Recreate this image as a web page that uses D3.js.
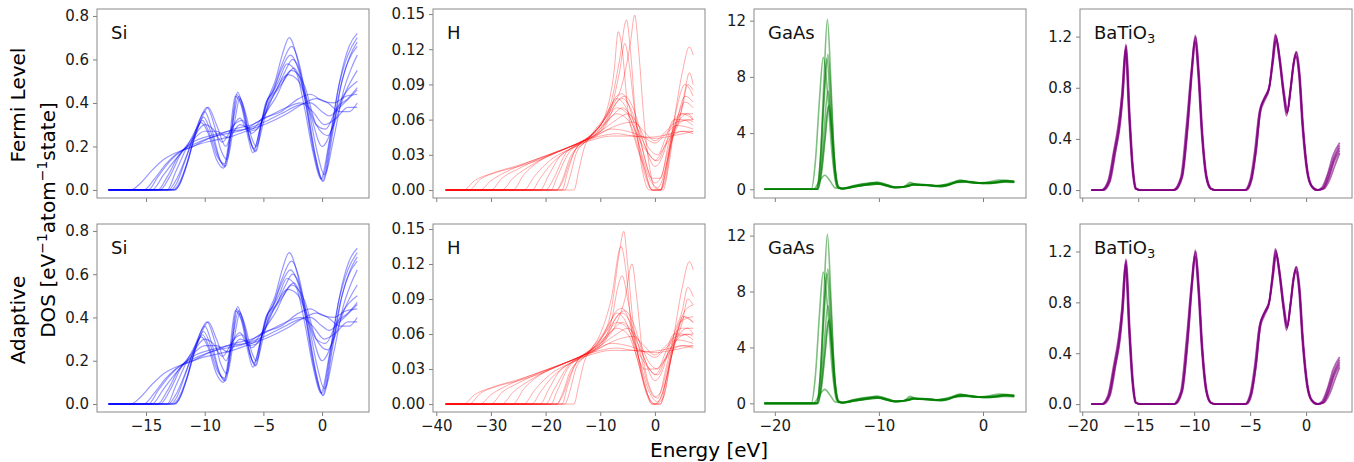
<!DOCTYPE html>
<html>
<head>
<meta charset="utf-8">
<script src="https://cdn.jsdelivr.net/npm/d3@7"></script>
<style>
body { margin: 0; background: #fff; }
text { font-family: "DejaVu Sans", sans-serif; }
</style>
</head>
<body>
<svg id="chart" width="1354" height="462"></svg>
<script>
const svg = d3.select("#chart")

// tick values
const siXTicks = [-15, -10, -5, 0]
const siYTicks = [0, 0.2, 0.4, 0.6, 0.8]
const hXTicks = [-40, -30, -20, -10, 0]
const hYTicks = [0, 0.03, 0.06, 0.09, 0.12, 0.15]
const gaasXTicks = [-20, -10, 0]
const gaasYTicks = [0, 4, 8, 12]
const batXTicks = [-20, -15, -10, -5, 0]
const batYTicks = [0, 0.4, 0.8, 1.2]

const rowNames = ["Fermi Level", "Adaptive"]

// Si DOS curves, [energy, dos]
const siCurves = [
  [[-18.2,0],[-12.6,0],[-12.2,0.02],[-11.5,0.12],[-10.8,0.25],[-10.1,0.335],[-9.5,0.27],[-8.8,0.15],[-8.3,0.105],[-7.8,0.25],[-7.3,0.44],[-6.8,0.38],[-6.2,0.24],[-5.7,0.175],[-5.2,0.3],[-4.7,0.41],[-4.2,0.45],[-3.5,0.55],[-2.7,0.62],[-2.0,0.55],[-1.3,0.37],[-0.6,0.16],[0.05,0.04],[0.8,0.25],[1.6,0.48],[2.3,0.6],[3.0,0.66]],
  [[-18.2,0],[-12.5,0],[-12.1,0.03],[-11.4,0.14],[-10.7,0.28],[-10.0,0.36],[-9.4,0.28],[-8.7,0.14],[-8.2,0.11],[-7.7,0.27],[-7.2,0.45],[-6.7,0.37],[-6.1,0.22],[-5.6,0.18],[-5.1,0.32],[-4.6,0.42],[-4.0,0.5],[-3.4,0.62],[-2.8,0.7],[-2.1,0.6],[-1.4,0.4],[-0.7,0.17],[0.0,0.05],[0.7,0.24],[1.5,0.5],[2.3,0.66],[3.0,0.72]],
  [[-18.2,0],[-12.9,0],[-12.4,0.03],[-11.7,0.13],[-10.9,0.25],[-10.2,0.32],[-9.6,0.26],[-8.9,0.15],[-8.3,0.12],[-7.7,0.28],[-7.1,0.43],[-6.6,0.36],[-6.2,0.25],[-5.8,0.19],[-5.2,0.3],[-4.7,0.4],[-4.1,0.47],[-3.4,0.58],[-2.6,0.66],[-1.9,0.57],[-1.2,0.36],[-0.5,0.14],[0.1,0.04],[0.9,0.26],[1.7,0.5],[2.4,0.62],[3.0,0.68]],
  [[-18.2,0],[-13.1,0],[-12.5,0.04],[-11.6,0.15],[-10.6,0.3],[-9.8,0.38],[-9.2,0.3],[-8.6,0.18],[-8.1,0.14],[-7.5,0.3],[-7.0,0.42],[-6.5,0.35],[-6.0,0.24],[-5.6,0.2],[-5.0,0.31],[-4.5,0.41],[-3.9,0.46],[-3.2,0.54],[-2.5,0.6],[-1.8,0.53],[-1.1,0.36],[-0.4,0.17],[0.2,0.07],[1.0,0.24],[1.8,0.45],[2.5,0.56],[3.0,0.62]],
  [[-18.2,0],[-12.7,0],[-12.3,0.02],[-11.6,0.11],[-11.0,0.22],[-10.3,0.31],[-9.7,0.26],[-9.0,0.14],[-8.4,0.1],[-7.9,0.24],[-7.4,0.43],[-6.9,0.39],[-6.3,0.24],[-5.9,0.17],[-5.3,0.28],[-4.8,0.4],[-4.3,0.44],[-3.7,0.5],[-3.0,0.58],[-2.2,0.54],[-1.5,0.38],[-0.8,0.18],[-0.1,0.05],[0.6,0.22],[1.4,0.47],[2.2,0.62],[3.0,0.7]],
  [[-18.2,0],[-13.8,0],[-13.0,0.06],[-12.0,0.17],[-11.0,0.24],[-10.0,0.3],[-9.3,0.28],[-8.5,0.22],[-7.5,0.3],[-6.8,0.32],[-6.0,0.26],[-5.0,0.33],[-4.0,0.45],[-2.9,0.53],[-2.0,0.5],[-1.0,0.35],[0.0,0.2],[1.0,0.3],[2.0,0.45],[3.0,0.55]],
  [[-18.2,0],[-14.5,0],[-13.5,0.07],[-12.5,0.14],[-11.5,0.2],[-10.0,0.27],[-9.0,0.27],[-8.0,0.24],[-7.0,0.3],[-6.0,0.28],[-5.0,0.34],[-4.0,0.42],[-2.6,0.55],[-1.5,0.48],[-0.5,0.3],[0.5,0.25],[1.5,0.4],[3.0,0.5]],
  [[-18.2,0],[-13.2,0],[-12.5,0.08],[-11.5,0.2],[-10.5,0.3],[-9.7,0.38],[-9.0,0.3],[-8.2,0.2],[-7.5,0.3],[-7.0,0.33],[-6.3,0.27],[-5.5,0.28],[-4.5,0.4],[-3.3,0.5],[-2.4,0.56],[-1.5,0.45],[-0.5,0.3],[0.3,0.28],[1.3,0.38],[2.2,0.42],[3.0,0.47]],
  [[-18.2,0],[-14.0,0],[-13.2,0.06],[-12.2,0.16],[-11.0,0.22],[-9.5,0.25],[-8.0,0.27],[-6.5,0.28],[-5.0,0.31],[-3.5,0.35],[-2.0,0.39],[-1.0,0.4],[0.0,0.36],[0.6,0.34],[1.5,0.38],[3.0,0.46]],
  [[-18.2,0],[-16.3,0],[-15.5,0.03],[-14.5,0.09],[-13.5,0.14],[-12.5,0.17],[-11.5,0.19],[-10.5,0.21],[-9.0,0.23],[-7.5,0.25],[-6.0,0.28],[-4.5,0.31],[-3.0,0.35],[-1.5,0.4],[-0.5,0.42],[0.5,0.4],[1.5,0.36],[2.3,0.36],[3.0,0.4]],
  [[-18.2,0],[-15.2,0],[-14.3,0.05],[-13.3,0.12],[-12.3,0.17],[-11.0,0.2],[-9.5,0.24],[-8.0,0.26],[-6.5,0.28],[-5.0,0.33],[-3.5,0.36],[-2.0,0.42],[-1.0,0.44],[0.0,0.41],[1.0,0.4],[2.0,0.43],[3.0,0.44]],
  [[-18.2,0],[-14.8,0],[-14.0,0.06],[-13.0,0.13],[-12.0,0.18],[-10.5,0.22],[-9.0,0.25],[-7.5,0.28],[-6.0,0.3],[-4.5,0.34],[-3.0,0.38],[-1.8,0.4],[-0.8,0.36],[0.2,0.3],[1.2,0.33],[2.2,0.38],[3.0,0.38]]
]

// H DOS curves common to both rows
const hShared = [
  [[-38.3,0],[-35,0],[-33,0.008],[-30,0.014],[-25,0.021],[-20,0.029],[-16,0.036],[-12,0.042],[-8,0.046],[-4,0.046],[0,0.044],[3,0.046],[7,0.05]],
  [[-38.3,0],[-32,0],[-30,0.008],[-27,0.016],[-23,0.024],[-19,0.031],[-15,0.038],[-11,0.046],[-8,0.052],[-5,0.05],[-2,0.045],[0,0.04],[2,0.048],[4,0.055],[7,0.052]],
  [[-38.3,0],[-28,0],[-26,0.01],[-23,0.02],[-20,0.028],[-16,0.036],[-12,0.045],[-9,0.058],[-7,0.065],[-5,0.06],[-3,0.035],[-1.5,0.008],[-0.5,0],[1,0],[2,0.015],[3,0.04],[4.5,0.06],[6,0.065],[7,0.06]],
  [[-38.3,0],[-18,0],[-17,0.006],[-15.5,0.025],[-14,0.038],[-12,0.045],[-10,0.055],[-8,0.068],[-6,0.078],[-4.5,0.07],[-3,0.05],[-1.5,0.02],[0,0.006],[1,0.01],[2.5,0.035],[4,0.06],[5.5,0.075],[7,0.07]],
  [[-38.3,0],[-24,0],[-22,0.012],[-19,0.026],[-16,0.034],[-13,0.04],[-10,0.048],[-7,0.055],[-4,0.058],[-2,0.05],[0,0.042],[2,0.05],[4,0.058],[7,0.06]],
  [[-38.3,0],[-21,0],[-19.5,0.012],[-17.5,0.028],[-15,0.036],[-12,0.044],[-9,0.055],[-7,0.075],[-5.5,0.08],[-4,0.07],[-2,0.04],[0,0.02],[1.5,0.03],[3,0.055],[5,0.065],[7,0.065]],
  [[-38.3,0],[-34,0],[-32,0.009],[-29,0.015],[-25,0.02],[-21,0.026],[-17,0.034],[-13,0.042],[-10,0.05],[-7,0.06],[-5,0.065],[-3,0.055],[-1,0.035],[0.5,0.03],[2,0.045],[3.5,0.06],[5,0.06],[7,0.055]],
  [[-38.3,0],[-26,0],[-24,0.013],[-21,0.025],[-18,0.032],[-14,0.04],[-10,0.05],[-7,0.07],[-5,0.065],[-3,0.04],[-1,0.01],[0.5,0.002],[2,0.02],[3.5,0.06],[5,0.1],[6.3,0.122],[7,0.115]],
  [[-38.3,0],[-30,0],[-28,0.01],[-25,0.018],[-21,0.027],[-17,0.034],[-13,0.042],[-10,0.046],[-7,0.048],[-4,0.046],[-1,0.045],[1,0.046],[3,0.048],[5,0.05],[7,0.048]],
  [[-38.3,0],[-16.5,0],[-15.5,0.012],[-14.5,0.03],[-13,0.04],[-11,0.05],[-9,0.062],[-7,0.08],[-6,0.082],[-5,0.075],[-3.5,0.05],[-2,0.02],[-0.5,0],[1,0],[2,0.02],[3.5,0.05],[5,0.07],[6,0.09],[7,0.085]],
  [[-38.3,0],[-22.5,0],[-21,0.01],[-19,0.022],[-16.5,0.032],[-13,0.042],[-10,0.052],[-8,0.062],[-6,0.07],[-4,0.06],[-2.5,0.045],[-1,0.03],[0.5,0.025],[2,0.04],[4,0.055],[6,0.06],[7,0.058]],
  [[-38.3,0],[-14.8,0],[-14,0.015],[-13,0.035],[-11.5,0.048],[-9.5,0.06],[-8,0.072],[-7,0.078],[-5.5,0.072],[-4,0.055],[-2.5,0.04],[-1,0.03],[0,0.025],[1.5,0.035],[3,0.045],[5,0.05],[7,0.05]]
]

// H curves with tall peaks, Fermi level row
const hFermiPeaks = [
  [[-38.3,0],[-20,0],[-18.5,0.01],[-16.5,0.03],[-14,0.04],[-11,0.05],[-9,0.065],[-7.5,0.1],[-6.7,0.135],[-6,0.12],[-5,0.07],[-3.5,0.04],[-2,0.02],[-0.5,0],[1,0],[2.5,0.03],[4,0.07],[5.5,0.09],[7,0.08]],
  [[-38.3,0],[-17,0],[-16,0.015],[-14.5,0.035],[-12,0.045],[-10,0.055],[-8,0.075],[-6.5,0.11],[-5.2,0.145],[-4.5,0.12],[-3.5,0.06],[-2,0.01],[-1,0],[1,0],[2,0.01],[3,0.04],[4.5,0.06],[5.5,0.085],[6.3,0.1],[7,0.09]],
  [[-38.3,0],[-19,0],[-18,0.01],[-16,0.03],[-13,0.042],[-10,0.055],[-8,0.07],[-6,0.09],[-4.5,0.125],[-3.7,0.149],[-3,0.12],[-2,0.06],[-1,0.02],[0,0.002],[1.5,0],[2.5,0.02],[3.5,0.05],[5,0.065],[7,0.06]],
  [[-38.3,0],[-18,0],[-17,0.008],[-15.5,0.028],[-13,0.04],[-10,0.052],[-8,0.07],[-6.5,0.1],[-5.5,0.125],[-4.8,0.11],[-3.5,0.06],[-2,0.03],[-0.5,0.01],[1,0.01],[2.5,0.04],[4,0.06],[5.5,0.08],[7,0.075]]
]

// H curves with tall peaks, adaptive row
const hAdaptivePeaks = [
  [[-38.3,0],[-19,0],[-18,0.01],[-16,0.03],[-13,0.042],[-10,0.055],[-8,0.08],[-6.5,0.13],[-5.7,0.148],[-5,0.12],[-4,0.07],[-3,0.04],[-1.5,0.01],[0,0],[1.5,0.005],[3,0.04],[4.5,0.07],[7,0.075]],
  [[-38.3,0],[-17,0],[-16,0.015],[-14.5,0.035],[-12,0.046],[-10,0.06],[-8,0.09],[-6.2,0.135],[-5.2,0.11],[-4.2,0.06],[-3,0.035],[-1.5,0.01],[0,0],[1,0.005],[2.5,0.03],[4,0.06],[5.5,0.08],[7,0.085]],
  [[-38.3,0],[-20,0],[-18.5,0.012],[-16,0.032],[-13,0.043],[-10,0.052],[-7.5,0.065],[-5.5,0.09],[-4.2,0.12],[-3.3,0.09],[-2.3,0.045],[-1,0.015],[0.5,0.005],[2,0.03],[3.5,0.06],[5,0.08],[6,0.1],[7,0.092]],
  [[-38.3,0],[-18,0],[-17,0.008],[-15.5,0.028],[-13,0.04],[-10,0.052],[-8,0.07],[-6.8,0.1],[-6,0.11],[-5,0.09],[-3.5,0.05],[-2,0.03],[0,0.03],[2,0.04],[4,0.06],[5,0.075],[7,0.07]]
]

// GaAs DOS curves
const gaasCurves = [
  [[-21,0],[-16,0],[-15.6,2.4],[-15.3,7.4],[-14.95,12.1],[-14.6,7.4],[-14.3,2.4],[-13.9,0.2],[-13.5,0.05],[-12.5,0.2],[-11.2,0.35],[-10.3,0.45],[-9.3,0.25],[-8.5,0.12],[-7.5,0.2],[-6.9,0.4],[-6.2,0.3],[-5,0.28],[-4,0.2],[-3,0.4],[-2,0.62],[-1,0.5],[0,0.45],[1,0.5],[2,0.62],[3,0.55]],
  [[-21,0],[-16,0],[-15.6,1.9],[-15.3,5.9],[-14.9,9.6],[-14.55,5.9],[-14.25,1.9],[-13.9,0.15],[-13.5,0.06],[-12.5,0.25],[-11,0.45],[-10.2,0.5],[-9.2,0.3],[-8.5,0.15],[-7.3,0.22],[-6.5,0.35],[-5.5,0.3],[-4.5,0.22],[-3.5,0.3],[-2.3,0.55],[-1.2,0.55],[0,0.42],[1.2,0.45],[2.2,0.55],[3,0.5]],
  [[-21,0],[-16.05,0],[-15.65,1.9],[-15.35,5.8],[-15,9.3],[-14.65,5.8],[-14.35,1.9],[-13.95,0.15],[-13.5,0.05],[-12.3,0.18],[-11,0.3],[-10,0.38],[-9,0.22],[-8.3,0.1],[-7.2,0.25],[-6.3,0.33],[-5.2,0.25],[-4,0.18],[-2.8,0.45],[-1.8,0.58],[-0.8,0.48],[0.4,0.4],[1.5,0.5],[2.4,0.58],[3,0.52]],
  [[-21,0],[-16.5,0],[-16.1,2],[-15.7,6.5],[-15.35,9.4],[-14.95,7],[-14.5,2.5],[-14.05,0.2],[-13.6,0.05],[-12.5,0.15],[-11.3,0.3],[-10.4,0.42],[-9.4,0.3],[-8.6,0.15],[-7.6,0.18],[-7,0.5],[-6.3,0.3],[-5.2,0.3],[-4.2,0.25],[-3.2,0.35],[-2.2,0.66],[-1,0.45],[0.2,0.48],[1.6,0.66],[2.5,0.6],[3,0.55]],
  [[-21,0],[-15.9,0],[-15.55,1.4],[-15.25,4.3],[-14.9,7],[-14.55,4.3],[-14.25,1.4],[-13.9,0.12],[-13.5,0.04],[-12.4,0.22],[-11,0.4],[-10.1,0.42],[-9.1,0.22],[-8.4,0.14],[-7.4,0.22],[-6.7,0.38],[-5.8,0.3],[-4.7,0.27],[-3.8,0.2],[-2.6,0.5],[-1.6,0.55],[-0.5,0.45],[0.8,0.46],[2,0.58],[3,0.54]],
  [[-21,0],[-15.85,0],[-15.5,1.2],[-15.15,3.7],[-14.8,6],[-14.45,3.7],[-14.15,1.2],[-13.8,0.1],[-13.4,0.05],[-12.2,0.2],[-10.8,0.35],[-9.9,0.4],[-9,0.25],[-8.2,0.15],[-7.2,0.2],[-6.6,0.36],[-5.6,0.33],[-4.4,0.26],[-3.4,0.28],[-2.4,0.5],[-1.4,0.52],[-0.3,0.46],[1,0.5],[2.1,0.56],[3,0.5]],
  [[-21,0],[-15.9,0],[-15.55,1.2],[-15.2,3.6],[-14.85,5.9],[-14.5,3.6],[-14.2,1.2],[-13.85,0.1],[-13.4,0.04],[-12.4,0.18],[-11.1,0.32],[-10.1,0.36],[-9.1,0.2],[-8.4,0.12],[-7.4,0.18],[-6.8,0.3],[-5.8,0.28],[-4.6,0.25],[-3.6,0.3],[-2.6,0.48],[-1.6,0.5],[-0.6,0.44],[0.8,0.44],[2,0.5],[3,0.48]],
  [[-21,0],[-16.3,0],[-15.7,0.6],[-15.2,1.0],[-14.7,0.6],[-14.2,0.1],[-13.6,0.05],[-12.4,0.25],[-11,0.4],[-10.1,0.5],[-9.1,0.3],[-8.4,0.14],[-7.4,0.2],[-6.5,0.35],[-5.4,0.32],[-4.4,0.25],[-3.4,0.4],[-2.2,0.62],[-1.2,0.5],[0,0.42],[1.3,0.5],[2.3,0.62],[3,0.58]]
]

// BaTiO3 DOS curves
const batCurves = [
  [[-19.2,0],[-18.2,0],[-17.6,0.07],[-17.1,0.3],[-16.7,0.5],[-16.4,0.75],[-16.1,1.12],[-15.8,0.6],[-15.5,0.18],[-15.2,0.01],[-14.8,0],[-11.8,0],[-11.1,0.1],[-10.6,0.5],[-10.2,0.95],[-9.9,1.19],[-9.6,0.9],[-9.3,0.45],[-8.9,0.1],[-8.5,0.01],[-8.1,0],[-5.4,0],[-4.9,0.08],[-4.5,0.3],[-4.1,0.62],[-3.7,0.72],[-3.3,0.8],[-3.0,1.0],[-2.7,1.2],[-2.4,1.05],[-2.0,0.75],[-1.7,0.6],[-1.4,0.78],[-1.1,1.0],[-0.9,1.07],[-0.6,0.9],[-0.3,0.5],[0.1,0.15],[0.5,0.03],[1.0,0],[1.5,0.01],[2.0,0.1],[2.5,0.24],[3.0,0.33]],
  [[-19.2,0],[-18.3,0],[-17.7,0.07],[-17.2,0.3],[-16.8,0.5],[-16.45,0.74],[-16.15,1.1],[-15.85,0.6],[-15.55,0.18],[-15.25,0.01],[-14.9,0],[-11.9,0],[-11.2,0.1],[-10.7,0.5],[-10.25,0.94],[-9.95,1.17],[-9.65,0.9],[-9.35,0.45],[-8.95,0.1],[-8.55,0.01],[-8.2,0],[-5.5,0],[-5.0,0.08],[-4.6,0.3],[-4.2,0.6],[-3.8,0.7],[-3.35,0.78],[-3.05,0.98],[-2.75,1.22],[-2.45,1.06],[-2.05,0.76],[-1.75,0.58],[-1.45,0.76],[-1.15,0.98],[-0.95,1.05],[-0.65,0.9],[-0.35,0.5],[0.05,0.15],[0.45,0.03],[0.9,0],[1.4,0.02],[1.9,0.12],[2.4,0.27],[3.0,0.37]],
  [[-19.2,0],[-18.1,0],[-17.5,0.07],[-17.0,0.31],[-16.6,0.52],[-16.35,0.76],[-16.05,1.13],[-15.75,0.6],[-15.45,0.18],[-15.15,0.01],[-14.8,0],[-11.7,0],[-11.05,0.1],[-10.55,0.5],[-10.15,0.96],[-9.85,1.2],[-9.55,0.9],[-9.25,0.45],[-8.85,0.1],[-8.45,0.01],[-8.1,0],[-5.3,0],[-4.85,0.08],[-4.45,0.31],[-4.05,0.64],[-3.65,0.73],[-3.25,0.82],[-2.95,1.0],[-2.65,1.18],[-2.35,1.04],[-1.95,0.76],[-1.65,0.62],[-1.35,0.8],[-1.05,1.02],[-0.85,1.08],[-0.55,0.9],[-0.25,0.5],[0.15,0.15],[0.55,0.03],[1.1,0],[1.6,0.01],[2.1,0.08],[2.6,0.2],[3.0,0.29]],
  [[-19.2,0],[-18.2,0],[-17.6,0.06],[-17.1,0.28],[-16.7,0.48],[-16.4,0.72],[-16.1,1.08],[-15.8,0.58],[-15.5,0.17],[-15.2,0.01],[-14.8,0],[-11.8,0],[-11.1,0.1],[-10.6,0.48],[-10.2,0.93],[-9.9,1.16],[-9.6,0.88],[-9.3,0.44],[-8.9,0.1],[-8.5,0.01],[-8.1,0],[-5.4,0],[-4.9,0.08],[-4.5,0.29],[-4.1,0.6],[-3.7,0.7],[-3.3,0.79],[-3.0,0.98],[-2.7,1.17],[-2.4,1.03],[-2.0,0.74],[-1.7,0.6],[-1.4,0.77],[-1.1,0.98],[-0.9,1.05],[-0.6,0.88],[-0.3,0.5],[0.1,0.15],[0.5,0.03],[1.0,0],[1.5,0.02],[2.0,0.13],[2.5,0.26],[3.0,0.35]],
  [[-19.2,0],[-18.25,0],[-17.65,0.07],[-17.15,0.3],[-16.75,0.5],[-16.45,0.76],[-16.1,1.14],[-15.8,0.62],[-15.5,0.19],[-15.2,0.01],[-14.85,0],[-11.85,0],[-11.15,0.1],[-10.65,0.5],[-10.2,0.97],[-9.9,1.21],[-9.6,0.92],[-9.3,0.46],[-8.9,0.1],[-8.5,0.01],[-8.15,0],[-5.45,0],[-4.95,0.08],[-4.55,0.3],[-4.15,0.62],[-3.75,0.72],[-3.3,0.81],[-3.0,1.02],[-2.7,1.21],[-2.4,1.06],[-2.0,0.77],[-1.7,0.61],[-1.4,0.79],[-1.1,1.01],[-0.9,1.08],[-0.6,0.91],[-0.3,0.5],[0.1,0.15],[0.5,0.03],[1.0,0],[1.5,0.01],[2.0,0.09],[2.5,0.22],[3.0,0.31]]
]

// axes boxes in pixels
const cols = [{l: 97, r: 369}, {l: 433, r: 705}, {l: 754, r: 1026}, {l: 1080, r: 1352}]
const rows = [{t: 9, b: 198}, {t: 224, b: 412}]

const panels = [
  {label: "Si", xDom: [-19.18, 4.0], yDom: [-0.037, 0.832], xTicks: siXTicks, yTicks: siYTicks, yFmt: ".1f", xFmt: "d",
   color: "#0000ff", op: 0.4, sw: 1.2, curves: [siCurves, siCurves]},
  {label: "H", xDom: [-40.6, 9.16], yDom: [-0.0068, 0.1543], xTicks: hXTicks, yTicks: hYTicks, yFmt: ".2f", xFmt: "d",
   color: "#ff0000", op: 0.33, sw: 1, curves: [hShared.concat(hFermiPeaks), hShared.concat(hAdaptivePeaks)]},
  {label: "GaAs", xDom: [-22.0, 4.13], yDom: [-0.62, 12.83], xTicks: gaasXTicks, yTicks: gaasYTicks, yFmt: "d", xFmt: "d",
   color: "#008000", op: 0.5, sw: 1.6, curves: [gaasCurves, gaasCurves]},
  {label: "BaTiO3", xDom: [-20.2, 4.1], yDom: [-0.062, 1.416], xTicks: batXTicks, yTicks: batYTicks, yFmt: ".1f", xFmt: "d",
   color: "#800080", op: 0.6, sw: 1.7, curves: [batCurves, batCurves]}
]

function drawPanel(p, ci, ri) {
  const c = cols[ci], r = rows[ri]
  const x = d3.scaleLinear().domain(p.xDom).range([c.l, c.r])
  const y = d3.scaleLinear().domain(p.yDom).range([r.b, r.t])
  const g = svg.append("g")

  const line = d3.line()
    .x(d => x(d[0]))
    .y(d => y(d[1]))
    .curve(d3.curveMonotoneX)

  g.append("g")
    .selectAll("path")
    .data(p.curves[ri])
    .enter().append("path")
    .attr("d", line)
    .attr("fill", "none")
    .attr("stroke", p.color)
    .attr("stroke-opacity", p.op)
    .attr("stroke-width", p.sw)

  // y axis
  const ya = g.append("g")
    .attr("transform", `translate(${c.l},0)`)
    .call(d3.axisLeft(y).tickValues(p.yTicks).tickFormat(d3.format(p.yFmt)).tickSize(4).tickPadding(4))
  // x axis, labels only on bottom row
  const xa = g.append("g")
    .attr("transform", `translate(0,${r.b})`)
    .call(d3.axisBottom(x).tickValues(p.xTicks).tickFormat(ri === 1 ? d3.format(p.xFmt) : "").tickSize(4).tickPadding(4))
  for (const a of [ya, xa]) {
    a.select(".domain").remove()
    a.selectAll(".tick line").attr("stroke", "#7f7f7f")
    a.selectAll(".tick text").attr("fill", "#1a1a1a").style("font-size", "15px").style("font-family", "DejaVu Sans")
  }

  // frame
  g.append("rect")
    .attr("x", c.l).attr("y", r.t)
    .attr("width", c.r - c.l).attr("height", r.b - r.t)
    .attr("fill", "none")
    .attr("stroke", "#8a8a8a")
    .attr("stroke-width", 1)

  // material label
  const t = g.append("text")
    .attr("x", c.l + 14).attr("y", r.t + 30)
    .style("font-size", "18px")
    .attr("fill", "#111")
  if (p.label === "BaTiO3") {
    t.append("tspan").text("BaTiO")
    t.append("tspan").attr("dy", 4).style("font-size", "13px").text("3")
  } else {
    t.text(p.label)
  }
}

rows.forEach((r, ri) => panels.forEach((p, ci) => drawPanel(p, ci, ri)))

// row labels
svg.append("text")
  .attr("transform", "translate(25,105) rotate(-90)")
  .attr("text-anchor", "middle")
  .style("font-size", "20px")
  .text(rowNames[0])
svg.append("text")
  .attr("transform", "translate(25,320) rotate(-90)")
  .attr("text-anchor", "middle")
  .style("font-size", "20px")
  .text(rowNames[1])

const dos = svg.append("text")
  .attr("transform", "translate(55,220) rotate(-90)")
  .attr("text-anchor", "middle")
  .style("font-size", "20px")
dos.append("tspan").text("DOS [eV")
dos.append("tspan").attr("dy", -8).style("font-size", "14px").text("\u22121")
dos.append("tspan").attr("dy", 8).text("atom")
dos.append("tspan").attr("dy", -8).style("font-size", "14px").text("\u22121")
dos.append("tspan").attr("dy", 8).text("state]")

svg.append("text")
  .attr("x", 709).attr("y", 457)
  .attr("text-anchor", "middle")
  .style("font-size", "20px")
  .text("Energy [eV]")
</script>
</body>
</html>
